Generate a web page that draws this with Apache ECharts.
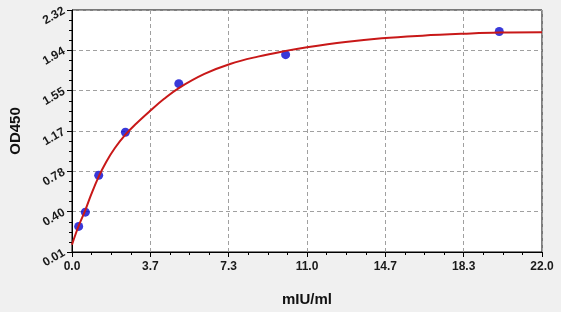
<!DOCTYPE html>
<html>
<head>
<meta charset="utf-8">
<script src="https://cdn.jsdelivr.net/npm/echarts@6/dist/echarts.min.js"></script>
<style>html,body{margin:0;padding:0;background:#f0f0f0;}#c{width:561px;height:312px;}</style>
</head>
<body>
<div id="c"></div>
<script>
// Standards (concentration mIU/ml, OD450)
const stdConc = [0.3125, 0.625, 1.25, 2.5, 5, 10, 20];
const stdOD = [0.254, 0.390, 0.742, 1.153, 1.617, 1.894, 2.115];
// Fitted curve
const curveX = [0, 0.15, 0.3125, 0.625, 0.9, 1.25, 1.6, 2.0, 2.5, 3.0, 3.67, 4.3, 5, 6.2, 7.4, 8.7, 10, 11, 12.8, 14.5, 16.4, 18.3, 20, 22];
const curveY = [0.08, 0.17, 0.26, 0.41, 0.56, 0.73, 0.87, 1.0, 1.13, 1.235, 1.36, 1.47, 1.575, 1.71, 1.805, 1.875, 1.93, 1.965, 2.015, 2.05, 2.075, 2.093, 2.105, 2.108];
const xTicks = {min: 0, max: 22, interval: 22 / 6};
const yTicks = {min: 0.01, max: 2.32, interval: 0.385};
const xName = 'mIU/ml';
const yName = 'OD450';

const chart = echarts.init(document.getElementById('c'), null, {renderer: 'canvas'});
const labelFont = {color: '#1a1a1a', fontFamily: 'Liberation Sans, Arial, sans-serif', fontWeight: 'bold', fontSize: 12};
chart.setOption({
  backgroundColor: '#f0f0f0',
  animation: false,
  grid: {left: 71, right: 19, top: 10, bottom: 58, show: true, backgroundColor: '#ffffff', borderColor: '#000', borderWidth: 1},
  xAxis: {
    type: 'value', min: xTicks.min, max: xTicks.max, interval: xTicks.interval,
    name: xName, nameLocation: 'middle', nameGap: 40,
    nameTextStyle: {color: '#111', fontFamily: 'Liberation Sans, Arial, sans-serif', fontWeight: 'bold', fontSize: 15},
    axisLine: {show: true, lineStyle: {color: '#000', width: 1}},
    axisTick: {show: true, length: 5, lineStyle: {color: '#000'}},
    minorTick: {show: true, splitNumber: 4, length: 3, lineStyle: {color: '#000'}},
    axisLabel: Object.assign({margin: 9, formatter: v => (Math.round(v * 10 + 1e-6) / 10).toFixed(1)}, labelFont),
    splitLine: {show: true, lineStyle: {color: '#a0a0a0', type: [4, 3], width: 1}}
  },
  yAxis: {
    type: 'value', min: yTicks.min, max: yTicks.max, interval: yTicks.interval,
    name: yName, nameLocation: 'middle', nameGap: 49,
    nameTextStyle: {color: '#111', fontFamily: 'Liberation Sans, Arial, sans-serif', fontWeight: 'bold', fontSize: 15},
    axisLine: {show: true, lineStyle: {color: '#000', width: 1}},
    axisTick: {show: true, length: 5, lineStyle: {color: '#000'}},
    minorTick: {show: true, splitNumber: 4, length: 3, lineStyle: {color: '#000'}},
    axisLabel: Object.assign({margin: 8, rotate: 30, formatter: v => (Math.round(v * 100 + 1e-6) / 100).toFixed(2)}, labelFont),
    splitLine: {show: true, lineStyle: {color: '#a0a0a0', type: [4, 3], width: 1}}
  },
  series: [
    {
      type: 'scatter', z: 2,
      data: stdConc.map((x, i) => [x, stdOD[i]]),
      symbol: 'circle', symbolSize: 9,
      itemStyle: {color: '#0808d0'}
    },
    {
      type: 'line', z: 3, smooth: 0.4, showSymbol: false, symbol: 'none',
      data: curveX.map((x, i) => [x, curveY[i]]),
      lineStyle: {color: '#c81818', width: 2}
    }
  ]
});
</script>
</body>
</html>
